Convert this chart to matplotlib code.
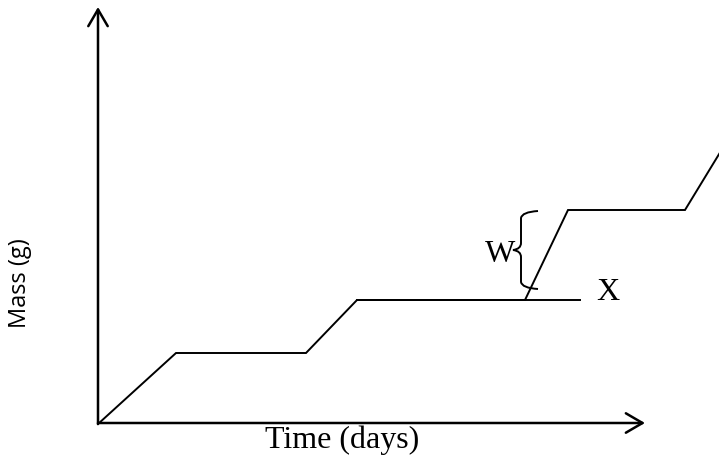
import matplotlib
matplotlib.use("Agg")
import matplotlib.pyplot as plt
from matplotlib.path import Path
from matplotlib.patches import PathPatch

# Data (time in arbitrary day units, mass in arbitrary g units)
time = [0, 78, 208, 259, 427, 470, 587, 640]
mass = [0, 71, 71, 124, 124, 214, 214, 301]
x_line_time = [259, 482]
x_line_mass = [124, 124]
brace_time = 423
brace_low, brace_high = 135, 213

fig = plt.figure(figsize=(7.19, 4.56), dpi=100)
ax = fig.add_axes([0, 0, 1, 1])
ax.set_xlim(-98, 621)
ax.set_ylim(-31, 425)
ax.axis("off")

# axes with open arrowheads
arrow = dict(arrowstyle="->,head_length=12,head_width=7", lw=1.8, color="black",
             shrinkA=0, shrinkB=0, mutation_scale=1)
ax.annotate("", xy=(0, 417), xytext=(0, 0), arrowprops=arrow)
ax.annotate("", xy=(547, 1), xytext=(0, 1), arrowprops=arrow)

ax.plot(time, mass, color="black", lw=1.4, solid_joinstyle="miter")
ax.plot(x_line_time, x_line_mass, color="black", lw=1.4)

# curly brace
b = brace_time
lo, hi = brace_low, brace_high
mid = (lo + hi) / 2
verts = [(b + 17, hi), (b + 1, hi - 1), (b, hi - 7),
         (b, mid + 7),
         (b, mid + 1), (b - 8, mid),
         (b, mid - 1), (b, mid - 7),
         (b, lo + 7),
         (b + 1, lo + 1), (b + 17, lo)]
codes = [Path.MOVETO, Path.CURVE3, Path.CURVE3,
         Path.LINETO,
         Path.CURVE3, Path.CURVE3,
         Path.CURVE3, Path.CURVE3,
         Path.LINETO,
         Path.CURVE3, Path.CURVE3]
ax.add_patch(PathPatch(Path(verts, codes), fill=False, lw=1.4, color="black"))

serif = "Liberation Serif"
ax.text(402, 171, "W", family=serif, fontsize=23, ha="center", va="center")
ax.text(510, 132, "X", family=serif, fontsize=23, ha="center", va="center")
ax.text(244, -1, "Time (days)", family=serif, fontsize=23, ha="center", va="top")
ax.text(-78, 142, "Mass (g)", family="Open Sans", fontsize=17, ha="center",
        va="center", rotation=90)

fig.savefig("out.png", dpi=100)
